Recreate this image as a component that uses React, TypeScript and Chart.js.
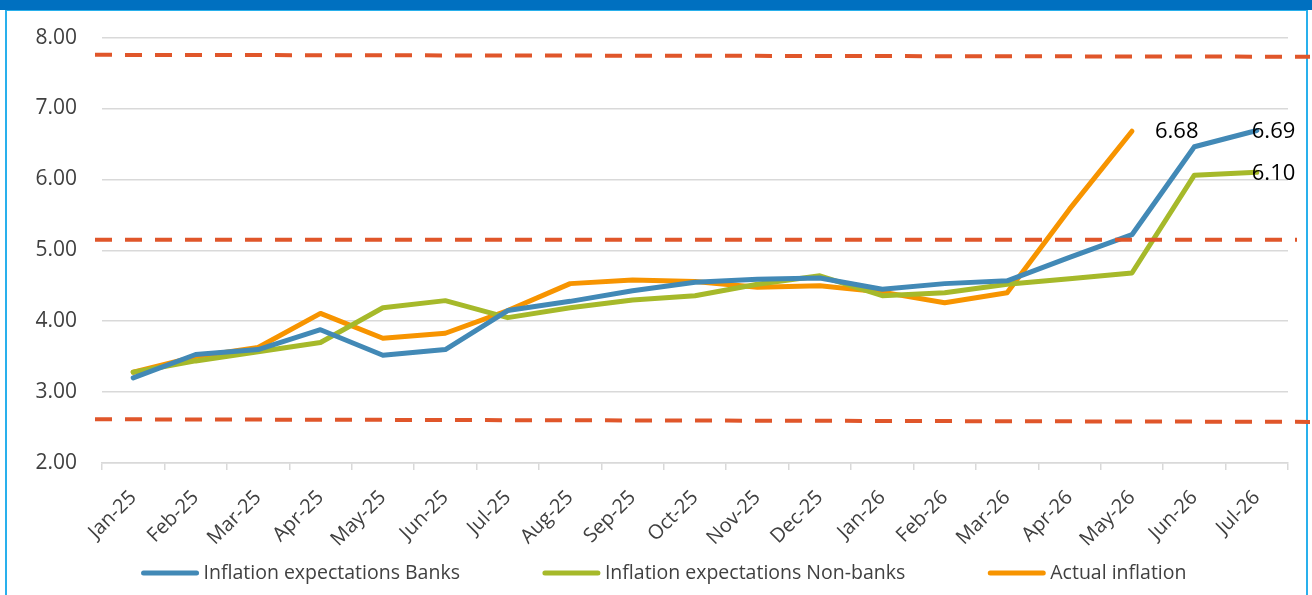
import { useEffect, useRef } from "react";
import { Chart, registerables } from "chart.js";

Chart.register(...registerables);

const months = [
  "Jan-25", "Feb-25", "Mar-25", "Apr-25", "May-25", "Jun-25", "Jul-25", "Aug-25", "Sep-25", "Oct-25",
  "Nov-25", "Dec-25", "Jan-26", "Feb-26", "Mar-26", "Apr-26", "May-26", "Jun-26", "Jul-26",
];
const banks = [3.2, 3.53, 3.6, 3.88, 3.52, 3.6, 4.15, 4.28, 4.43, 4.55, 4.59, 4.61, 4.45, 4.53, 4.57, 4.9, 5.22, 6.46, 6.69];
const nonBanks = [3.28, 3.44, 3.57, 3.7, 4.19, 4.29, 4.05, 4.19, 4.3, 4.36, 4.52, 4.64, 4.36, 4.4, 4.52, 4.6, 4.68, 6.06, 6.1];
const actual = [3.28, 3.5, 3.63, 4.11, 3.76, 3.83, 4.15, 4.53, 4.58, 4.56, 4.48, 4.5, 4.41, 4.26, 4.4, 5.58, 6.68, null, null];
const seriesNames = ["Inflation expectations Banks", "Inflation expectations Non-banks", "Actual inflation"];
const yMin = 2;
const yMax = 8;
const yStep = 1;
// reference (band) lines: value at left end and at right end
const bandStartValues = [7.757, 5.15, 2.617];
const bandEndValues = [7.73, 5.15, 2.58];
// data labels: [series index, point index]
const labelledPoints = [
  [2, 16],
  [0, 18],
  [1, 18],
];

const COLORS = ["#4289B6", "#A6B92A", "#F79400"];
const DASH = "#E0562A";
const TEXT = "#404040";
const FONT = '"Open Sans", sans-serif';

const bandPlugin = {
  id: "bands",
  afterDatasetsDraw(chart: any) {
    const { ctx, chartArea, scales } = chart;
    const rightExt = [22, 9, 22];
    ctx.save();
    ctx.strokeStyle = DASH;
    ctx.lineWidth = 4;
    ctx.setLineDash([17, 13]);
    bandStartValues.forEach((v, i) => {
      const y0 = scales.y.getPixelForValue(v);
      const y1 = scales.y.getPixelForValue(bandEndValues[i]);
      ctx.beginPath();
      ctx.moveTo(chartArea.left - 7, y0);
      ctx.lineTo(chartArea.right + rightExt[i], y1);
      ctx.stroke();
    });
    ctx.restore();

    // data labels
    const offsets = [
      [23, 1],
      [-5, 1.5],
      [-5, 1],
    ];
    ctx.save();
    ctx.fillStyle = "#000000";
    ctx.font = `22px ${FONT}`;
    ctx.textAlign = "left";
    ctx.textBaseline = "middle";
    labelledPoints.forEach(([s, idx], k) => {
      const pt = chart.getDatasetMeta(s).data[idx];
      const val = chart.data.datasets[s].data[idx] as number;
      ctx.fillText(val.toFixed(2), pt.x + offsets[k][0], pt.y + offsets[k][1]);
    });
    ctx.restore();
  },
};

const legendPlugin = {
  id: "customLegend",
  afterDraw(chart: any) {
    const { ctx } = chart;
    const ds = chart.data.datasets;
    const lineLen = 57;
    const gapText = 5;
    const gapItem = 83;
    const centerX = 664;
    const y = 573;
    ctx.save();
    ctx.font = `19.5px ${FONT}`;
    const widths = ds.map((d: any) => lineLen + gapText + ctx.measureText(d.label).width);
    const total = widths.reduce((a: number, b: number) => a + b, 0) + gapItem * (ds.length - 1);
    let x = centerX - total / 2;
    ds.forEach((d: any, i: number) => {
      ctx.strokeStyle = d.borderColor;
      ctx.lineWidth = 5;
      ctx.lineCap = "round";
      ctx.beginPath();
      ctx.moveTo(x + 2, y);
      ctx.lineTo(x + lineLen - 2, y);
      ctx.stroke();
      ctx.fillStyle = TEXT;
      ctx.textAlign = "left";
      ctx.textBaseline = "middle";
      ctx.fillText(d.label, x + lineLen + gapText, y);
      x += widths[i] + gapItem;
    });
    ctx.restore();
  },
};

export default function App() {
  const ref = useRef<HTMLCanvasElement | null>(null);

  useEffect(() => {
    let chart: Chart | null = null;
    let cancelled = false;
    const make = () => {
      if (cancelled || !ref.current) return;
      const seriesData = [banks, nonBanks, actual];
      chart = new Chart(ref.current, {
        type: "line",
        data: {
          labels: months,
          datasets: seriesData.map((d, i) => ({
            label: seriesNames[i],
            data: d,
            borderColor: COLORS[i],
            backgroundColor: COLORS[i],
            borderWidth: 5,
            pointRadius: 0,
            pointHoverRadius: 0,
            tension: 0,
            borderJoinStyle: "round" as const,
            borderCapStyle: "round" as const,
            spanGaps: false,
          })),
        },
        options: {
          responsive: false,
          animation: false,
          layout: { padding: { top: 36, left: 0, right: 24, bottom: 0 } },
          plugins: {
            legend: { display: false },
            tooltip: { enabled: false },
          },
          scales: {
            x: {
              offset: true,
              grid: {
                display: true,
                drawOnChartArea: false,
                drawTicks: true,
                tickLength: 7,
                color: "#D9D9D9",
                lineWidth: 1.5,
                offset: true,
              },
              border: { display: true, color: "#D9D9D9", width: 1.5 },
              ticks: {
                color: TEXT,
                font: { family: FONT, size: 20 },
                minRotation: 45,
                maxRotation: 45,
                autoSkip: false,
                padding: 16,
              },
              afterFit: (s: any) => {
                s.height = 132;
              },
            },
            y: {
              min: yMin,
              max: yMax,
              grid: { color: "#D9D9D9", lineWidth: 1.5, drawTicks: false },
              border: { display: false },
              ticks: {
                stepSize: yStep,
                color: TEXT,
                font: { family: FONT, size: 21 },
                padding: 25,
                callback: (v: any) => Number(v).toFixed(2),
              },
              afterFit: (s: any) => {
                s.width = 102;
              },
            },
          },
        },
        plugins: [bandPlugin, legendPlugin],
      });
    };
    const fontsReady = (document as any).fonts
      ? Promise.all([
          (document as any).fonts.load(`19px ${FONT}`),
          (document as any).fonts.load(`21px ${FONT}`),
        ]).catch(() => null)
      : Promise.resolve(null);
    fontsReady.then(make);
    return () => {
      cancelled = true;
      if (chart) chart.destroy();
    };
  }, []);

  return (
    <div
      style={{
        position: "fixed",
        left: 0,
        top: 0,
        width: 1312,
        height: 595,
        background: "#ffffff",
        overflow: "hidden",
      }}
    >
      <div style={{ position: "absolute", left: 0, top: 0, width: 1312, height: 10, background: "#0070C0" }} />
      <div
        style={{
          position: "absolute",
          left: 5,
          top: 10,
          width: 1303,
          height: 600,
          borderTop: "1px solid #29B0EC",
          borderLeft: "2px solid #29B0EC",
          borderRight: "2px solid #29B0EC",
          boxSizing: "border-box",
        }}
      />
      <canvas
        ref={ref}
        width={1312}
        height={595}
        style={{ position: "absolute", left: 0, top: 0, width: 1312, height: 595 }}
      />
    </div>
  );
}
